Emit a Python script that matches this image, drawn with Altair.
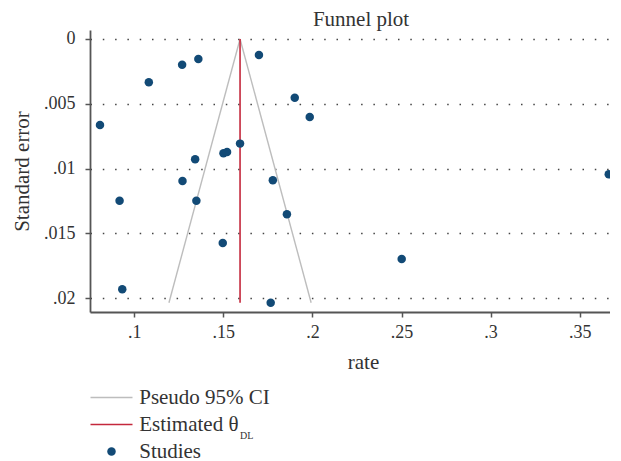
import altair as alt
import pandas as pd

# Study estimates
rate = [0.0808, 0.1082, 0.1269, 0.1360, 0.1700, 0.1901, 0.1985, 0.1594, 0.1501,
        0.1521, 0.1342, 0.1271, 0.1778, 0.0918, 0.1349, 0.1857, 0.1497, 0.0933,
        0.1766, 0.2501, 0.3663]
se = [0.00663, 0.00334, 0.00198, 0.00154, 0.00123, 0.00453, 0.00602, 0.00807,
      0.00882, 0.00872, 0.00928, 0.01095, 0.01090, 0.01247, 0.01247, 0.01352,
      0.01573, 0.01930, 0.02034, 0.01697, 0.01044]

# Estimated effect and pseudo 95% CI funnel
theta = [0.1594]
theta_se = [0.0, 0.02034]
ci_left_rate = [0.1594, 0.1195]
ci_right_rate = [0.1594, 0.1993]
ci_se = [0.0, 0.02034]

series_names = ["Pseudo 95% CI", "Estimated θ", "Studies"]
series_colors = ["#bdbdbd", "#c4283c", "#124a76"]
# legend line symbol: a thin bar, drawn in symbol units (scaled by sqrt(size)/2)
LINE_PATH = "M-4.95,-0.19L4.95,-0.19L4.95,0.19L-4.95,0.19Z"
series_shapes = [LINE_PATH, LINE_PATH, "circle"]

x_ticks = [0.1, 0.15, 0.2, 0.25, 0.3, 0.35]
y_ticks = [0, 0.005, 0.01, 0.015, 0.02]
x_domain = [0.0752, 0.367]
y_domain = [-0.000694, 0.021057]
sub_label = ["DL"]

FONT = "Liberation Serif"
TXT = "#333333"
PT_SIZE = 72

studies = pd.DataFrame({"rate": rate, "se": se, "series": "Studies"})
ci = pd.DataFrame({
    "rate": ci_left_rate + ci_right_rate,
    "se": ci_se + ci_se,
    "side": ["left"] * len(ci_left_rate) + ["right"] * len(ci_right_rate),
})
est = pd.DataFrame({"rate": theta * len(theta_se), "se": theta_se})
sub = pd.DataFrame({"t": sub_label})

xscale = alt.Scale(domain=x_domain, nice=False, zero=False)
yscale = alt.Scale(domain=y_domain, nice=False, zero=False, reverse=True)

xaxis = alt.Axis(values=x_ticks, format=".2~f",
                 labelExpr="datum.value == 0 ? '0' : substring(datum.label, 1)",
                 title="rate", grid=False, tickSize=5, labelPadding=6,
                 titlePadding=10, titleX=273, titleAlign="center")
yaxis = alt.Axis(values=y_ticks, format=".3~f",
                 labelExpr="datum.value == 0 ? '0' : substring(datum.label, 1)",
                 title="Standard error", grid=True, tickSize=5, labelPadding=10,
                 titlePadding=11, gridDash=[1.5, 10.8], gridColor="#444444",
                 gridWidth=1.5, gridOpacity=1)

ci_layer = alt.Chart(ci).mark_line(color=series_colors[0], strokeWidth=1.4).encode(
    x=alt.X("rate:Q", scale=xscale, axis=xaxis),
    y=alt.Y("se:Q", scale=yscale, axis=yaxis),
    detail="side:N",
)

est_layer = alt.Chart(est).mark_line(color=series_colors[1], strokeWidth=1.6).encode(
    x=alt.X("rate:Q", scale=xscale),
    y=alt.Y("se:Q", scale=yscale),
)


def mk_legend():
    return alt.Legend(
        title=None, orient="none", legendX=11, legendY=357, direction="vertical",
        labelFont=FONT, labelFontSize=21, labelColor=TXT, labelOffset=17.2,
        rowPadding=5, symbolOpacity=1, symbolStrokeWidth=0, symbolSize=PT_SIZE,
    )


pts_layer = alt.Chart(studies).mark_point(
    filled=True, opacity=1, strokeWidth=0, size=PT_SIZE, clip=True
).encode(
    x=alt.X("rate:Q", scale=xscale),
    y=alt.Y("se:Q", scale=yscale),
    color=alt.Color("series:N",
                    scale=alt.Scale(domain=series_names, range=series_colors),
                    legend=mk_legend()),
    shape=alt.Shape("series:N",
                    scale=alt.Scale(domain=series_names, range=series_shapes),
                    legend=mk_legend()),
)

sub_layer = alt.Chart(sub).mark_text(font=FONT, fontSize=10, color=TXT,
                                     align="left", baseline="middle").encode(
    x=alt.value(150), y=alt.value(406), text="t:N",
)

chart = alt.layer(ci_layer, est_layer, pts_layer, sub_layer).properties(
    width=520, height=282,
    title=alt.TitleParams("Funnel plot", font=FONT, fontSize=21,
                          fontWeight="normal", color=TXT, frame="group",
                          anchor="middle", offset=0, dx=11),
    padding={"left": 3, "top": 0, "right": 0, "bottom": 0},
).configure_view(stroke=None).configure_axis(
    labelFont=FONT, labelFontSize=18, labelColor=TXT,
    titleFont=FONT, titleFontSize=21, titleColor=TXT, titleFontWeight="normal",
    domainColor="#555555", domainWidth=1.8, tickColor="#555555", tickWidth=1.5,
).configure_axisY(labelAngle=0)

chart.save("out.html", embed_options={"renderer": "svg", "actions": False})
